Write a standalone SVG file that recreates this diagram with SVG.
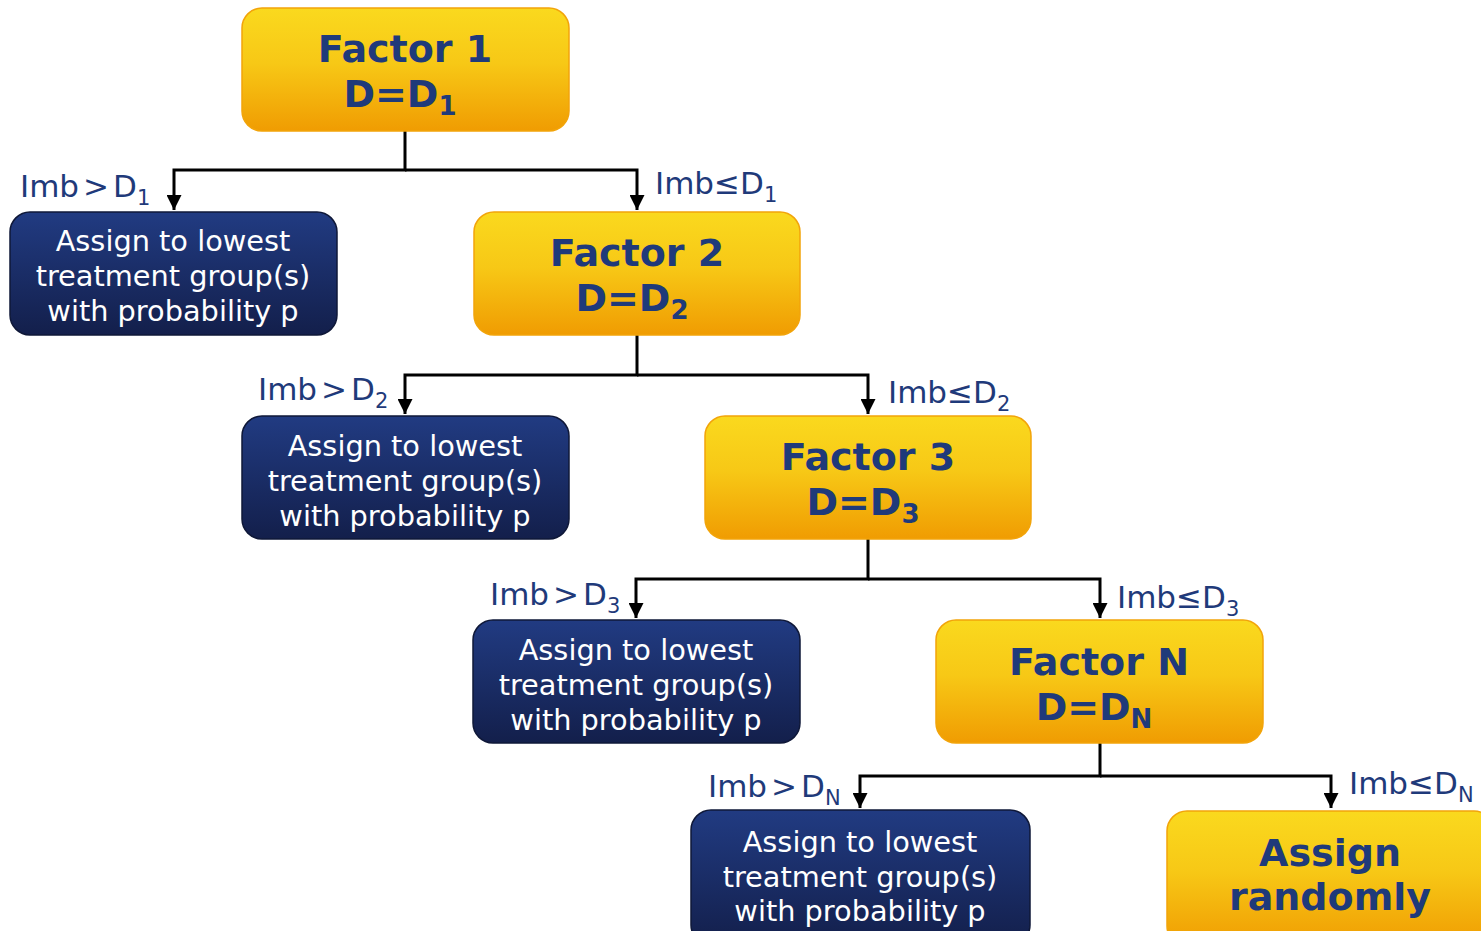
<svg xmlns="http://www.w3.org/2000/svg" width="1481" height="931" viewBox="0 0 1481 931">
<defs>
<linearGradient id="gy" x1="0" y1="0" x2="0" y2="1">
<stop offset="0" stop-color="#FAD91E"/>
<stop offset="0.45" stop-color="#F7C816"/>
<stop offset="1" stop-color="#F09C02"/>
</linearGradient>
<linearGradient id="gb" x1="0" y1="0" x2="0" y2="1">
<stop offset="0" stop-color="#213B82"/>
<stop offset="1" stop-color="#131F4B"/>
</linearGradient>
<marker id="ah" viewBox="0 0 10 10" refX="10" refY="5" markerWidth="5" markerHeight="5" orient="auto" markerUnits="strokeWidth">
<path d="M0,0 L10,5 L0,10 z" fill="#000"/>
</marker>
</defs>
<style>
.fy{fill:url(#gy);stroke:#F2A40A;stroke-width:1.5}
.fb{fill:url(#gb);stroke:#0F1838;stroke-width:1.5}
.tf{font-family:"DejaVu Sans",Verdana,sans-serif;font-weight:bold;font-size:38px;fill:#1F3A7A;text-anchor:middle}
.tw{font-family:"DejaVu Sans",Verdana,sans-serif;font-size:28.8px;fill:#FFFFFF;text-anchor:middle}
.tl{font-family:"DejaVu Sans",Verdana,sans-serif;font-size:31px;fill:#1F3A7A}
.sub{font-size:21px}
.subb{font-size:26px}
.c{fill:none;stroke:#000;stroke-width:3}
</style>
<g id="connectors">
<path class="c" d="M405,131 V170 H174 V210" marker-end="url(#ah)"/>
<path class="c" d="M405,170 H637 V210" marker-end="url(#ah)"/>
<path class="c" d="M637,335 V375 H405 V414" marker-end="url(#ah)"/>
<path class="c" d="M637,375 H868 V414" marker-end="url(#ah)"/>
<path class="c" d="M868,539 V579 H636 V618" marker-end="url(#ah)"/>
<path class="c" d="M868,579 H1100 V618" marker-end="url(#ah)"/>
<path class="c" d="M1100,743 V776 H860 V808" marker-end="url(#ah)"/>
<path class="c" d="M1100,776 H1331 V808" marker-end="url(#ah)"/>
</g>
<g id="labels">
<text class="tl" x="20" y="197">Imb<tspan dx="4">&gt;</tspan><tspan dx="4">D</tspan><tspan class="sub" dy="8">1</tspan></text>
<text class="tl" x="655" y="194">Imb≤D<tspan class="sub" dy="8">1</tspan></text>
<text class="tl" x="258" y="400">Imb<tspan dx="4">&gt;</tspan><tspan dx="4">D</tspan><tspan class="sub" dy="8">2</tspan></text>
<text class="tl" x="888" y="403">Imb≤D<tspan class="sub" dy="8">2</tspan></text>
<text class="tl" x="490" y="605">Imb<tspan dx="4">&gt;</tspan><tspan dx="4">D</tspan><tspan class="sub" dy="8">3</tspan></text>
<text class="tl" x="1117" y="608">Imb≤D<tspan class="sub" dy="8">3</tspan></text>
<text class="tl" x="708" y="797">Imb<tspan dx="4">&gt;</tspan><tspan dx="4">D</tspan><tspan class="sub" dy="8">N</tspan></text>
<text class="tl" x="1349" y="794">Imb≤D<tspan class="sub" dy="8">N</tspan></text>
</g>
<g id="factor1">
<rect class="fy" x="242" y="8" width="327" height="123" rx="20"/>
<text class="tf" x="405" y="62">Factor 1</text>
<text class="tf" x="400" y="107">D=D<tspan class="subb" dy="8">1</tspan></text>
</g>
<g id="assign1">
<rect class="fb" x="10" y="212" width="327" height="123" rx="20"/>
<text class="tw" x="173" y="251">Assign to lowest</text>
<text class="tw" x="173" y="286">treatment group(s)</text>
<text class="tw" x="173" y="321">with probability p</text>
</g>
<g id="factor2">
<rect class="fy" x="474" y="212" width="326" height="123" rx="20"/>
<text class="tf" x="637" y="266">Factor 2</text>
<text class="tf" x="632" y="311">D=D<tspan class="subb" dy="8">2</tspan></text>
</g>
<g id="assign2">
<rect class="fb" x="242" y="416" width="327" height="123" rx="20"/>
<text class="tw" x="405" y="456">Assign to lowest</text>
<text class="tw" x="405" y="491">treatment group(s)</text>
<text class="tw" x="405" y="526">with probability p</text>
</g>
<g id="factor3">
<rect class="fy" x="705" y="416" width="326" height="123" rx="20"/>
<text class="tf" x="868" y="470">Factor 3</text>
<text class="tf" x="863" y="515">D=D<tspan class="subb" dy="8">3</tspan></text>
</g>
<g id="assign3">
<rect class="fb" x="473" y="620" width="327" height="123" rx="20"/>
<text class="tw" x="636" y="660">Assign to lowest</text>
<text class="tw" x="636" y="695">treatment group(s)</text>
<text class="tw" x="636" y="730">with probability p</text>
</g>
<g id="factorN">
<rect class="fy" x="936" y="620" width="327" height="123" rx="20"/>
<text class="tf" x="1099" y="675">Factor N</text>
<text class="tf" x="1094" y="720">D=D<tspan class="subb" dy="8">N</tspan></text>
</g>
<g id="assignN">
<rect class="fb" x="691" y="810" width="339" height="135" rx="20"/>
<text class="tw" x="860" y="852">Assign to lowest</text>
<text class="tw" x="860" y="887">treatment group(s)</text>
<text class="tw" x="860" y="921">with probability p</text>
</g>
<g id="assignRandom">
<rect class="fy" x="1167" y="811" width="327" height="135" rx="20"/>
<text class="tf" x="1330" y="866">Assign</text>
<text class="tf" x="1330" y="910">randomly</text>
</g>
</svg>
